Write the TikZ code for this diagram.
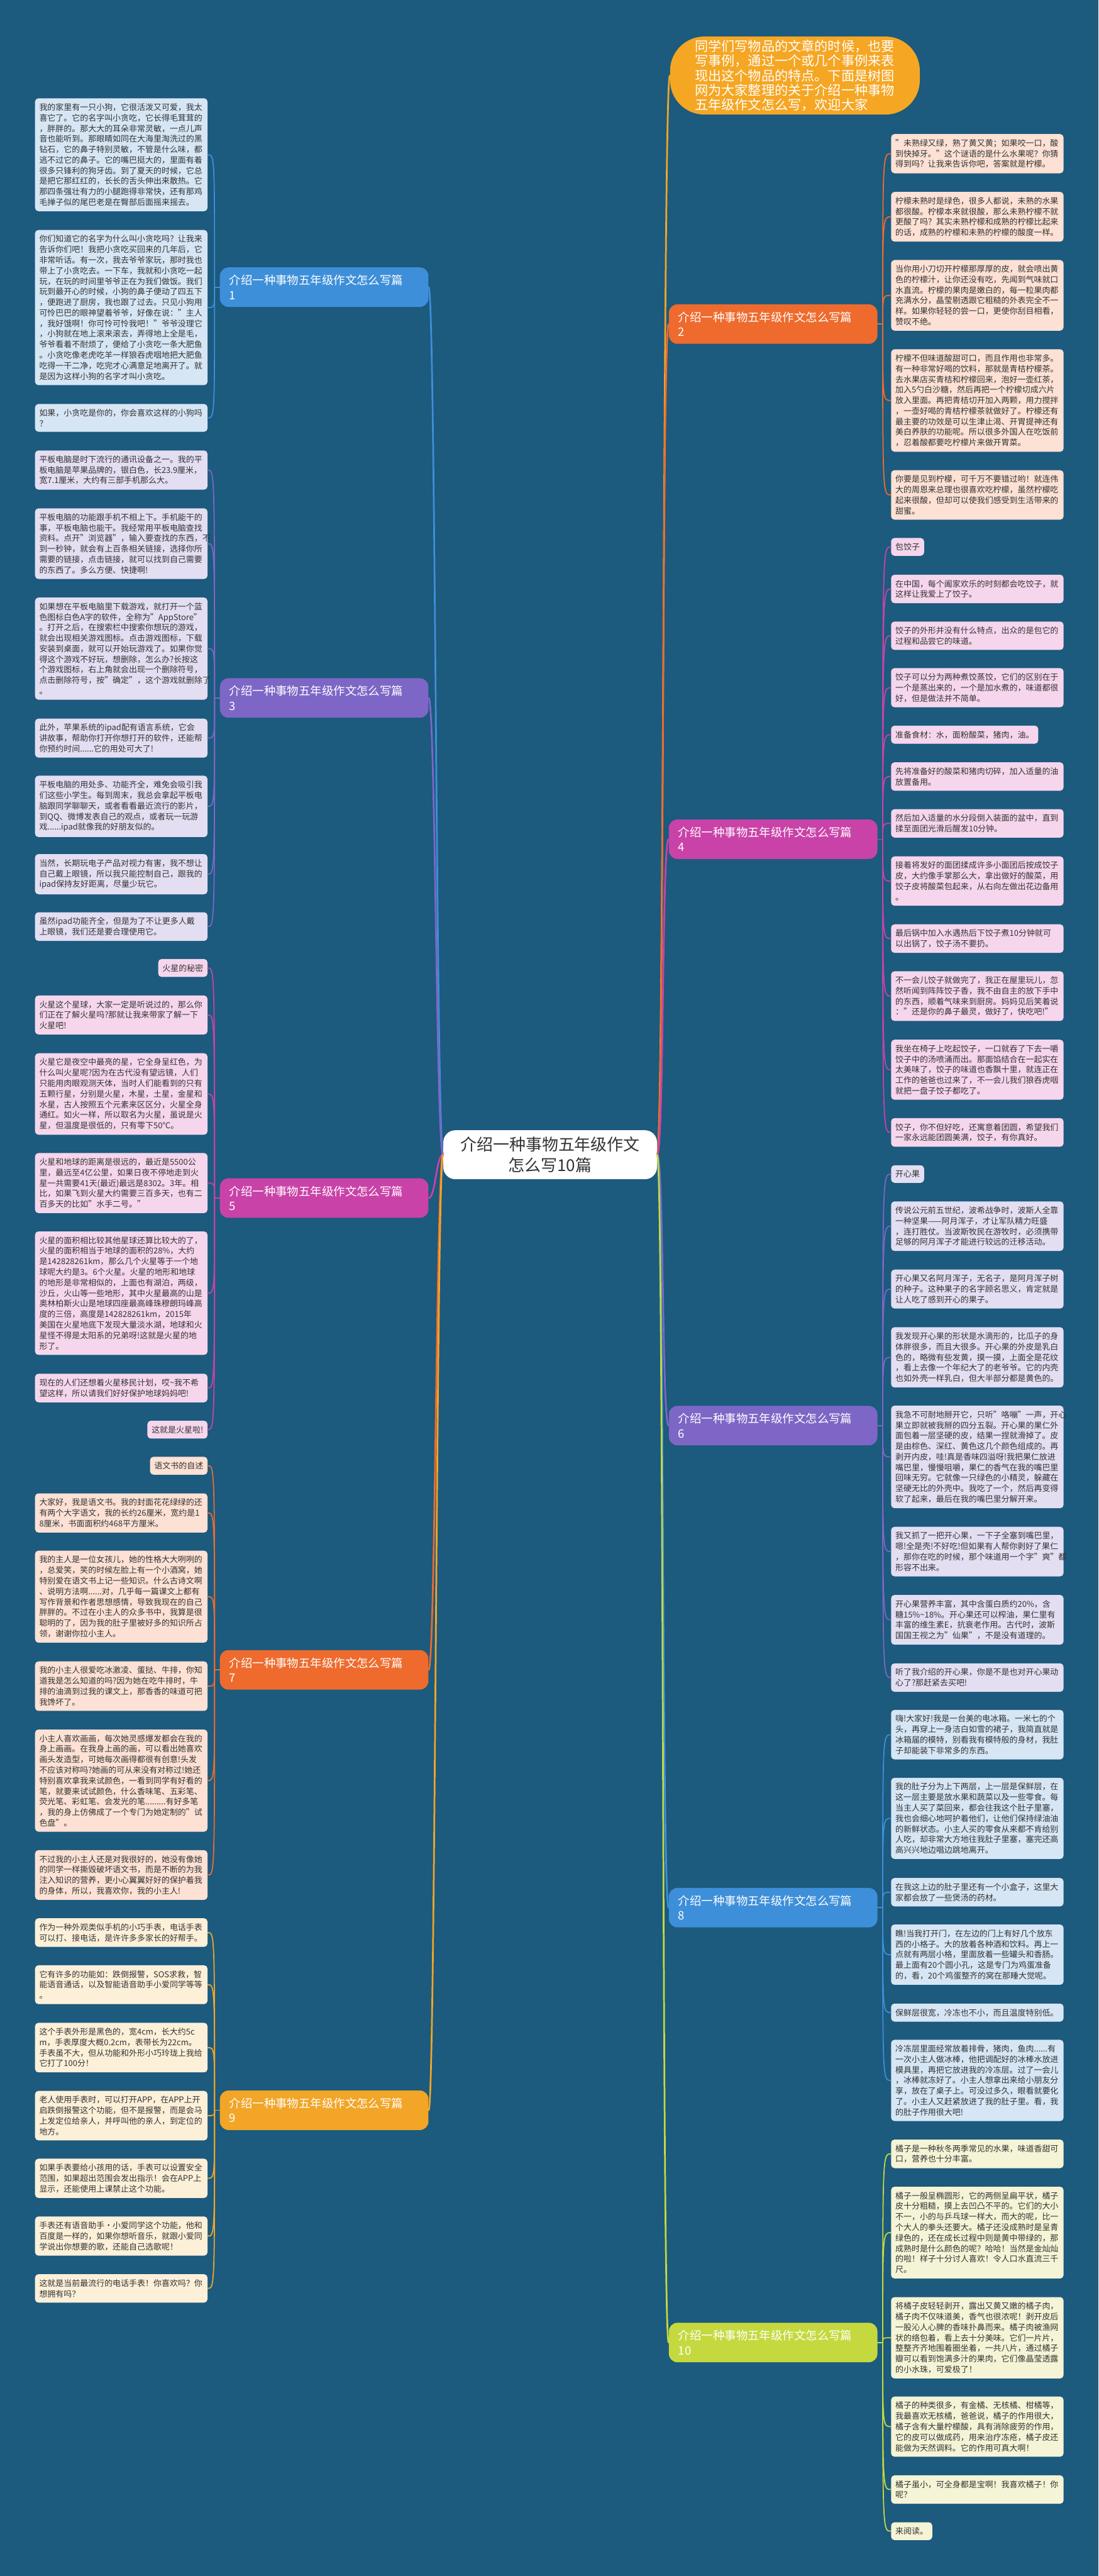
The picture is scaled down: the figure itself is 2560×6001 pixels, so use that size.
\documentclass[tikz,border=0pt]{standalone}
\usepackage{fontspec}
\setmainfont{Noto Sans CJK SC}
\definecolor{bgc}{HTML}{1C5A7E}
\definecolor{txt}{HTML}{333333}
\definecolor{cA}{HTML}{3E8FD9}\definecolor{fA}{HTML}{D6E6F5}
\definecolor{cB}{HTML}{EE6B2D}\definecolor{fB}{HTML}{FCE1D4}
\definecolor{cC}{HTML}{7E66C6}\definecolor{fC}{HTML}{E3DEF2}
\definecolor{cD}{HTML}{C942A8}\definecolor{fD}{HTML}{F6D6EC}
\definecolor{cE}{HTML}{F2A526}\definecolor{fE}{HTML}{FDF0D9}
\definecolor{cF}{HTML}{C5D93E}\definecolor{fF}{HTML}{F5F4D6}
\definecolor{introc}{HTML}{F5A623}
\begin{document}
\begin{tikzpicture}[x=0.5pt, y=-0.5pt, line cap=round,
  leaf/.style={rounded corners=4pt, text=txt, inner xsep=5pt, inner ysep=6pt,
    font=\fontsize{9.5}{12.3}\selectfont, align=left},
  leafL/.style={leaf, anchor=east, text width=191pt},
  leafR/.style={leaf, anchor=west, text width=191pt},
  tagL/.style={leaf, anchor=east},
  tagR/.style={leaf, anchor=west},
  branch/.style={rounded corners=10pt, text=white, text width=221pt, inner xsep=11pt,
    minimum height=46pt, align=left, font=\fontsize{13.5}{17}\selectfont},
  branchL/.style={branch, anchor=west},
  branchR/.style={branch, anchor=east},
  trunk/.style={line width=2pt},
  twig/.style={line width=1.3pt}]
  \fill[bgc] (0,0) rectangle (2560,6001);
  \useasboundingbox (0,0) rectangle (2560,6001);
  % 中心与引言
  \node[fill=white, rounded corners=14pt, minimum width=249pt, minimum height=57pt,
    align=center, text=txt, font=\fontsize{19}{24}\selectfont] (ctr) at (1282,2690)
    {介绍一种事物五年级作文\\怎么写10篇};
  \node[fill=introc, rounded corners=40pt, anchor=west, text=white, text width=233pt,
    inner xsep=29pt, inner ysep=4pt, align=left, font=\fontsize{15.5}{17}\selectfont] (intro) at (1561,176)
    {同学们写物品的文章的时候，也要\\写事例，通过一个或几个事例来表\\现出这个物品的特点。下面是树图\\网为大家整理的关于介绍一种事物\\五年级作文怎么写，欢迎大家};
  \draw[trunk, introc] (ctr.east) .. controls ([xshift=8pt]ctr.east) and ([xshift=-8pt]intro.west) .. (intro.west);
  % 分支
  \node[branchL, fill=cA] (b1) at (512,669) {介绍一种事物五年级作文怎么写篇\\1};
  \node[branchL, fill=cC] (b3) at (512,1626) {介绍一种事物五年级作文怎么写篇\\3};
  \node[branchL, fill=cD] (b5) at (512,2791) {介绍一种事物五年级作文怎么写篇\\5};
  \node[branchL, fill=cB] (b7) at (512,3890) {介绍一种事物五年级作文怎么写篇\\7};
  \node[branchL, fill=cE] (b9) at (512,4916) {介绍一种事物五年级作文怎么写篇\\9};
  \node[branchR, fill=cB] (b2) at (2045,755) {介绍一种事物五年级作文怎么写篇\\2};
  \node[branchR, fill=cD] (b4) at (2045,1955) {介绍一种事物五年级作文怎么写篇\\4};
  \node[branchR, fill=cC] (b6) at (2045,3321) {介绍一种事物五年级作文怎么写篇\\6};
  \node[branchR, fill=cA] (b8) at (2045,4444) {介绍一种事物五年级作文怎么写篇\\8};
  \node[branchR, fill=cF] (b10) at (2045,5457) {介绍一种事物五年级作文怎么写篇\\10};
  \foreach \b/\c in {b1/cA,b3/cC,b5/cD,b7/cB,b9/cE}
    \draw[trunk, \c] (ctr.west) .. controls ([xshift=-8pt]ctr.west) and ([xshift=8pt]\b.east) .. (\b.east);
  \foreach \b/\c in {b2/cB,b4/cD,b6/cC,b8/cA,b10/cF}
    \draw[trunk, \c] (ctr.east) .. controls ([xshift=8pt]ctr.east) and ([xshift=-8pt]\b.west) .. (\b.west);
  \foreach \b in {b1,b3,b5,b7,b9} \coordinate (h\b) at ([xshift=-6pt]\b.west);
  \foreach \b in {b2,b4,b6,b8,b10} \coordinate (h\b) at ([xshift=6pt]\b.east);
  % 篇1 小狗
  \node[leafL, fill=fA] (l1a) at (484,360.5) {我的家里有一只小狗，它很活泼又可爱，我太\\喜它了。它的名字叫小贪吃，它长得毛茸茸的\\，胖胖的。那大大的耳朵非常灵敏，一点儿声\\音也能听到。那眼睛如同在大海里淘洗过的黑\\钻石，它的鼻子特别灵敏，不管是什么味，都\\逃不过它的鼻子。它的嘴巴挺大的，里面有着\\很多只锋利的狗牙齿。到了夏天的时候，它总\\是把它那红红的，长长的舌头伸出来散热。它\\那四条强壮有力的小腿跑得非常快，还有那鸡\\毛掸子似的尾巴老是在臀部后面摇来摇去。};
  \node[leafL, fill=fA] (l1b) at (484,716.5) {你们知道它的名字为什么叫小贪吃吗？让我来\\告诉你们吧！我把小贪吃买回来的几年后，它\\非常听话。有一次，我去爷爷家玩，那时我也\\带上了小贪吃去。一下车，我就和小贪吃一起\\玩，在玩的时间里爷爷正在为我们做饭。我们\\玩到最开心的时候，小狗的鼻子便动了四五下\\，便跑进了厨房，我也跟了过去。只见小狗用\\可怜巴巴的眼神望着爷爷，好像在说："主人\\，我好饿啊！你可怜可怜我吧！"爷爷没理它\\，小狗就在地上滚来滚去，弄得地上全是毛，\\爷爷看着不耐烦了，便给了小贪吃一条大肥鱼\\。小贪吃像老虎吃羊一样狼吞虎咽地把大肥鱼\\吃得一干二净，吃完才心满意足地离开了。就\\是因为这样小狗的名字才叫小贪吃。};
  \node[leafL, fill=fA] (l1c) at (484,973.5) {如果，小贪吃是你的，你会喜欢这样的小狗吗\\？};
  % 篇3 平板电脑
  \node[leafL, fill=fC] (l3a) at (484,1095) {平板电脑是时下流行的通讯设备之一。我的平\\板电脑是苹果品牌的，银白色，长23.9厘米，\\宽7.1厘米，大约有三部手机那么大。};
  \node[leafL, fill=fC] (l3b) at (484,1266.5) {平板电脑的功能跟手机不相上下。手机能干的\\事，平板电脑也能干。我经常用平板电脑查找\\资料。点开"浏览器"，输入要查找的东西，不\\到一秒钟，就会有上百条相关链接，选择你所\\需要的链接，点击链接，就可以找到自己需要\\的东西了。多么方便、快捷啊!};
  \node[leafL, fill=fC] (l3c) at (484,1511) {如果想在平板电脑里下载游戏，就打开一个蓝\\色图标白色A字的软件，全称为"AppStore"\\。打开之后，在搜索栏中搜索你想玩的游戏，\\就会出现相关游戏图标。点击游戏图标，下载\\安装到桌面，就可以开始玩游戏了。如果你觉\\得这个游戏不好玩，想删除，怎么办?长按这\\个游戏图标，右上角就会出现一个删除符号，\\点击删除符号，按"确定"，这个游戏就删除了\\。};
  \node[leafL, fill=fC] (l3d) at (484,1719.5) {此外，苹果系统的ipad配有语言系统，它会\\讲故事，帮助你打开你想打开的软件，还能帮\\你预约时间......它的用处可大了!};
  \node[leafL, fill=fC] (l3e) at (484,1878.5) {平板电脑的用处多、功能齐全，难免会吸引我\\们这些小学生。每到周末，我总会拿起平板电\\脑跟同学聊聊天，或者看看最近流行的影片，\\到QQ、微博发表自己的观点，或者玩一玩游\\戏......ipad就像我的好朋友似的。};
  \node[leafL, fill=fC] (l3f) at (484,2036.5) {当然，长期玩电子产品对视力有害，我不想让\\自己戴上眼镜，所以我只能控制自己，跟我的\\ipad保持友好距离，尽量少玩它。};
  \node[leafL, fill=fC] (l3g) at (484,2158.5) {虽然ipad功能齐全，但是为了不让更多人戴\\上眼镜，我们还是要合理使用它。};
  % 篇5 火星
  \node[tagL, fill=fD] (l5t) at (484,2255) {火星的秘密};
  \node[leafL, fill=fD] (l5a) at (484,2364.5) {火星这个星球，大家一定是听说过的，那么你\\们正在了解火星吗?那就让我来带家了解一下\\火星吧!};
  \node[leafL, fill=fD] (l5b) at (484,2548.5) {火星它是夜空中最亮的星，它全身呈红色，为\\什么叫火星呢?因为在古代没有望远镜，人们\\只能用肉眼观测天体，当时人们能看到的只有\\五颗行星，分别是火星，木星，土星，金星和\\水星，古人按照五个元素来区区分，火星全身\\通红。如火一样，所以取名为火星，虽说是火\\星，但温度是很低的，只有零下50℃。};
  \node[leafL, fill=fD] (l5c) at (484,2756) {火星和地球的距离是很远的，最近是5500公\\里，最远至4亿公里，如果日夜不停地走到火\\星一共需要41天(最近)最远是8302。3年。相\\比，如果飞到火星大约需要三百多天，也有二\\百多天的比如"水手二号。"};
  \node[leafL, fill=fD] (l5d) at (484,3012.5) {火星的面积相比较其他星球还算比较大的了，\\火星的面积相当于地球的面积的28\%，大约\\是142828261km，那么几个火星等于一个地\\球呢大约是3。6个火星。火星的地形和地球\\的地形是非常相似的，上面也有湖泊，两级，\\沙丘，火山等一些地形，其中火星最高的山是\\奥林柏斯火山是地球四座最高峰珠穆朗玛峰高\\度的三倍，高度是142828261km，2015年\\美国在火星地底下发现大量淡水湖，地球和火\\星怪不得是太阳系的兄弟呀!这就是火星的地\\形了。};
  \node[leafL, fill=fD] (l5e) at (484,3233.5) {现在的人们还想着火星移民计划，哎\textasciitilde{}我不希\\望这样，所以请我们好好保护地球妈妈吧!};
  \node[tagL, fill=fD] (l5f) at (484,3330.5) {这就是火星啦!};
  % 篇7 语文书
  \node[tagL, fill=fB] (l7t) at (484,3414.5) {语文书的自述};
  \node[leafL, fill=fB] (l7a) at (484,3524.5) {大家好，我是语文书。我的封面花花绿绿的还\\有两个大字语文，我的长约26厘米，宽约是1\\8厘米，书面面积约468平方厘米。};
  \node[leafL, fill=fB] (l7b) at (484,3719.5) {我的主人是一位女孩儿，她的性格大大咧咧的\\，总爱笑，笑的时候左脸上有一个小酒窝，她\\特别爱在语文书上记一些知识。什么古诗文啊\\、说明方法啊......对，几乎每一篇课文上都有\\写作背景和作者思想感情，导致我现在的自己\\胖胖的。不过在小主人的众多书中，我算是很\\聪明的了，因为我的肚子里被好多的知识所占\\领，谢谢你拉小主人。};
  \node[leafL, fill=fB] (l7c) at (484,3928) {我的小主人很爱吃冰激凌、蛋挞、牛排，你知\\道我是怎么知道的吗?因为她在吃牛排时，牛\\排的油滴到过我的课文上，那香香的味道可把\\我馋坏了。};
  \node[leafL, fill=fB] (l7d) at (484,4148) {小主人喜欢画画，每次她灵感爆发都会在我的\\身上画画。在我身上画的画，可以看出她喜欢\\画头发造型，可她每次画得都很有创意!头发\\不应该对称吗?她画的可从来没有对称过!她还\\特别喜欢拿我来试颜色，一看到同学有好看的\\笔，就要来试试颜色，什么香味笔、五彩笔、\\荧光笔、彩虹笔、会发光的笔.........有好多笔\\，我的身上仿佛成了一个专门为她定制的"试\\色盘"。};
  \node[leafL, fill=fB] (l7e) at (484,4368) {不过我的小主人还是对我很好的，她没有像她\\的同学一样撕毁破坏语文书，而是不断的为我\\注入知识的营养，更小心翼翼好好的保护着我\\的身体，所以，我喜欢你，我的小主人!};
  % 篇9 电话手表
  \node[leafL, fill=fE] (l9a) at (484,4502) {作为一种外观类似手机的小巧手表，电话手表\\可以打、接电话，是许许多多家长的好帮手。};
  \node[leafL, fill=fE] (l9b) at (484,4623.5) {它有许多的功能如：跌倒报警，SOS求救，智\\能语音通话，以及智能语音助手小爱同学等等\\。};
  \node[leafL, fill=fE] (l9c) at (484,4770) {这个手表外形是黑色的，宽4cm，长大约5c\\m，手表厚度大概0.2cm，表带长为22cm。\\手表虽不大，但从功能和外形小巧玲珑上我给\\它打了100分！};
  \node[leafL, fill=fE] (l9d) at (484,4928.5) {老人使用手表时，可以打开APP，在APP上开\\启跌倒报警这个功能，但不是报警，而是会马\\上发定位给亲人，并呼叫他的亲人，到定位的\\地方。};
  \node[leafL, fill=fE] (l9e) at (484,5074.5) {如果手表要给小孩用的话，手表可以设置安全\\范围，如果超出范围会发出指示！会在APP上\\显示，还能使用上课禁止这个功能。};
  \node[leafL, fill=fE] (l9f) at (484,5209) {手表还有语音助手·小爱同学这个功能，他和\\百度是一样的，如果你想听音乐，就跟小爱同\\学说出你想要的歌，还能自己选歌呢！};
  \node[leafL, fill=fE] (l9g) at (484,5331) {这就是当前最流行的电话手表！你喜欢吗？你\\想拥有吗？};
  % 篇2 柠檬
  \node[leafR, fill=fB] (r2a) at (2076,358) {"未熟绿又绿，熟了黄又黄；如果咬一口，酸\\到快掉牙。"这个谜语的是什么水果呢？你猜\\得到吗？让我来告诉你吧，答案就是柠檬。};
  \node[leafR, fill=fB] (r2b) at (2076,505) {柠檬未熟时是绿色，很多人都说，未熟的水果\\都很酸。柠檬本来就很酸，那么未熟柠檬不就\\更酸了吗？其实未熟柠檬和成熟的柠檬比起来\\的话，成熟的柠檬和未熟的柠檬的酸度一样。};
  \node[leafR, fill=fB] (r2c) at (2076,688) {当你用小刀切开柠檬那厚厚的皮，就会喷出黄\\色的柠檬汁，让你还没有吃，先闻到气味就口\\水直流。柠檬的果肉是嫩白的，每一粒果肉都\\充满水分，晶莹剔透跟它粗糙的外表完全不一\\样。如果你轻轻的尝一口，更使你刮目相看，\\赞叹不绝。};
  \node[leafR, fill=fB] (r2d) at (2076,933) {柠檬不但味道酸甜可口，而且作用也非常多。\\有一种非常好喝的饮料，那就是青桔柠檬茶。\\去水果店买青桔和柠檬回来，泡好一壶红茶，\\加入5勺白沙糖，然后再把一个柠檬切成六片\\放入里面。再把青桔切开加入两颗，用力搅拌\\，一壶好喝的青桔柠檬茶就做好了。柠檬还有\\最主要的功效是可以生津止渴、开胃提神还有\\美白养肤的功能呢。所以很多外国人在吃饭前\\，忍着酸都要吃柠檬片来做开胃菜。};
  \node[leafR, fill=fB] (r2e) at (2076,1153) {你要是见到柠檬，可千万不要错过哟！就连伟\\大的周恩来总理也很喜欢吃柠檬，虽然柠檬吃\\起来很酸，但却可以使我们感受到生活带来的\\甜蜜。};
  % 篇4 饺子
  \node[tagR, fill=fD] (r4t) at (2076,1274) {包饺子};
  \node[leafR, fill=fD] (r4a) at (2076,1372) {在中国，每个阖家欢乐的时刻都会吃饺子，就\\这样让我爱上了饺子。};
  \node[leafR, fill=fD] (r4b) at (2076,1481) {饺子的外形并没有什么特点，出众的是包它的\\过程和品尝它的味道。};
  \node[leafR, fill=fD] (r4c) at (2076,1602) {饺子可以分为两种煮饺蒸饺，它们的区别在于\\一个是蒸出来的，一个是加水煮的，味道都很\\好，但是做法并不简单。};
  \node[tagR, fill=fD] (r4d) at (2076,1711.5) {准备食材：水，面粉酸菜，猪肉，油。};
  \node[leafR, fill=fD] (r4e) at (2076,1809) {先将准备好的酸菜和猪肉切碎，加入适量的油\\放置备用。};
  \node[leafR, fill=fD] (r4f) at (2076,1918) {然后加入适量的水分段倒入装面的盆中，直到\\揉至面团光滑后醒发10分钟。};
  \node[leafR, fill=fD] (r4g) at (2076,2052.5) {接着将发好的面团揉成许多小面团后按成饺子\\皮，大约像手掌那么大，拿出做好的酸菜，用\\饺子皮将酸菜包起来，从右向左做出花边备用\\。};
  \node[leafR, fill=fD] (r4h) at (2076,2186.5) {最后锅中加入水遇热后下饺子煮10分钟就可\\以出锅了，饺子汤不要扔。};
  \node[leafR, fill=fD] (r4i) at (2076,2320.5) {不一会儿饺子就做完了，我正在屋里玩儿，忽\\然听闻到阵阵饺子香，我不由自主的放下手中\\的东西，顺着气味来到厨房。妈妈见后笑着说\\："还是你的鼻子最灵，做好了，快吃吧!"};
  \node[leafR, fill=fD] (r4j) at (2076,2492) {我坐在椅子上吃起饺子，一口就吞了下去一嚼\\饺子中的汤喷涌而出。那面馅结合在一起实在\\太美味了，饺子的味道也香飘十里，就连正在\\工作的爸爸也过来了，不一会儿我们狼吞虎咽\\就把一盘子饺子都吃了。};
  \node[leafR, fill=fD] (r4k) at (2076,2638) {饺子，你不但好吃，还寓意着团圆，希望我们\\一家永远能团圆美满，饺子，有你真好。};
  % 篇6 开心果
  \node[tagR, fill=fC] (r6t) at (2076,2735) {开心果};
  \node[leafR, fill=fC] (r6a) at (2076,2856.5) {传说公元前五世纪，波希战争时，波斯人全靠\\一种坚果——阿月浑子，才让军队精力旺盛\\，连打胜仗。当波斯牧民在游牧时，必须携带\\足够的阿月浑子才能进行较远的迁移活动。};
  \node[leafR, fill=fC] (r6b) at (2076,3003) {开心果又名阿月浑子，无名子，是阿月浑子树\\的种子。这种果子的名字顾名思义，肯定就是\\让人吃了感到开心的果子。};
  \node[leafR, fill=fC] (r6c) at (2076,3162) {我发现开心果的形状是水滴形的，比瓜子的身\\体胖很多，而且大很多。开心果的外皮是乳白\\色的，略微有些发黄，摸一摸，上面全是花纹\\，看上去像一个年纪大了的老爷爷。它的内壳\\也如外壳一样乳白，但大半部分都是黄色的。};
  \node[leafR, fill=fC] (r6d) at (2076,3394) {我急不可耐地掰开它，只听"咯嘣"一声，开心\\果立即就被我掰的四分五裂。开心果的果仁外\\面包着一层坚硬的皮，结果一捏就滑掉了。皮\\是由棕色、深红、黄色这几个颜色组成的。再\\剥开内皮，哇!真是香味四溢呀!我把果仁放进\\嘴巴里，慢慢咀嚼，果仁的香气在我的嘴巴里\\回味无穷。它就像一只绿色的小精灵，躲藏在\\坚硬无比的外壳中。我吃了一个，然后再变得\\软了起来，最后在我的嘴巴里分解开来。};
  \node[leafR, fill=fC] (r6e) at (2076,3614.5) {我又抓了一把开心果，一下子全塞到嘴巴里，\\嗯!全是壳!不好吃!但如果有人帮你剥好了果仁\\，那你在吃的时候，那个味道用一个字"爽"都\\形容不出来。};
  \node[leafR, fill=fC] (r6f) at (2076,3773.5) {开心果营养丰富，其中含蛋白质约20\%，含\\糖15\%\textasciitilde{}18\%。开心果还可以榨油，果仁里有\\丰富的维生素E，抗衰老作用。古代时，波斯\\国国王视之为"仙果"，不是没有道理的。};
  \node[leafR, fill=fC] (r6g) at (2076,3908) {听了我介绍的开心果，你是不是也对开心果动\\心了?那赶紧去买吧!};
  % 篇8 电冰箱
  \node[leafR, fill=fA] (r8a) at (2076,4041) {嗨!大家好!我是一台美的电冰箱。一米七的个\\头，再穿上一身洁白如雪的裙子，我简直就是\\冰箱届的模特，别看我有模特般的身材，我肚\\子却能装下非常多的东西。};
  \node[leafR, fill=fA] (r8b) at (2076,4236) {我的肚子分为上下两层，上一层是保鲜层，在\\这一层主要是放水果和蔬菜以及一些零食。每\\当主人买了菜回来，都会往我这个肚子里塞，\\我也会细心地呵护着他们，让他们保持绿油油\\的新鲜状态。小主人买的零食从来都不肯给别\\人吃，却非常大方地往我肚子里塞，塞完还高\\高兴兴地边唱边跳地离开。};
  \node[leafR, fill=fA] (r8c) at (2076,4408) {在我这上边的肚子里还有一个小盒子，这里大\\家都会放了一些煲汤的药材。};
  \node[leafR, fill=fA] (r8d) at (2076,4553.5) {瞧!当我打开门，在左边的门上有好几个放东\\西的小格子。大的放着各种酒和饮料。再上一\\点就有两层小格，里面放着一些罐头和香肠。\\最上面有20个圆小孔，这是专门为鸡蛋准备\\的，看，20个鸡蛋整齐的窝在那睡大觉呢。};
  \node[leafR, fill=fA] (r8e) at (2076,4688.5) {保鲜层很宽，冷冻也不小，而且温度特别低。};
  \node[leafR, fill=fA] (r8f) at (2076,4846.5) {冷冻层里面经常放着排骨，猪肉，鱼肉......有\\一次小主人做冰棒，他把调配好的冰棒水放进\\模具里，再把它放进我的冷冻层。过了一会儿\\，冰棒就冻好了。小主人想拿出来给小朋友分\\享，放在了桌子上。可没过多久，眼看就要化\\了。小主人又赶紧放进了我的肚子里。看，我\\的肚子作用很大吧!};
  % 篇10 橘子
  \node[leafR, fill=fF] (r10a) at (2076,5017.5) {橘子是一种秋冬两季常见的水果，味道香甜可\\口，营养也十分丰富。};
  \node[leafR, fill=fF] (r10b) at (2076,5201) {橘子一般呈椭圆形，它的两侧呈扁平状，橘子\\皮十分粗糙，摸上去凹凸不平的。它们的大小\\不一，小的与乒乓球一样大，而大的呢，比一\\个大人的拳头还要大。橘子还没成熟时是呈青\\绿色的，还在成长过程中则是黄中带绿的，那\\成熟时是什么颜色的呢？哈哈！当然是金灿灿\\的啦！样子十分讨人喜欢！令人口水直流三千\\尺。};
  \node[leafR, fill=fF] (r10c) at (2076,5446) {将橘子皮轻轻剥开，露出又黄又嫩的橘子肉，\\橘子肉不仅味道美，香气也很浓呢！剥开皮后\\一股沁人心脾的香味扑鼻而来。橘子肉被渔网\\状的络包着，看上去十分美味。它们一片片，\\整整齐齐地围着圈坐着，一共八片，通过橘子\\瓣可以看到饱满多汁的果肉，它们像晶莹透露\\的小水珠，可爱极了！};
  \node[leafR, fill=fF] (r10d) at (2076,5653) {橘子的种类很多，有金橘、无核橘、柑橘等，\\我最喜欢无核橘，爸爸说，橘子的作用很大，\\橘子含有大量柠檬酸，具有消除疲劳的作用，\\它的皮可以做成药，用来治疗冻疮，橘子皮还\\能做为天然调料。它的作用可真大啊！};
  \node[leafR, fill=fF] (r10e) at (2076,5799.5) {橘子虽小，可全身都是宝啊！我喜欢橘子！你\\呢？};
  \node[tagR, fill=fF] (r10f) at (2076,5896.5) {来阅读。};
  % 叶子连线
  \foreach \b/\c/\ls in {b1/cA/{l1a,l1b,l1c}, b3/cC/{l3a,l3b,l3c,l3d,l3e,l3f,l3g},
      b5/cD/{l5t,l5a,l5b,l5c,l5d,l5e,l5f}, b7/cB/{l7t,l7a,l7b,l7c,l7d,l7e},
      b9/cE/{l9a,l9b,l9c,l9d,l9e,l9f,l9g}} {
    \draw[twig, \c] (\b.west) -- (h\b);
    \foreach \n in \ls
      \draw[twig, \c] (h\b) .. controls (h\b |- \n.east) .. (\n.east);
  }
  \foreach \b/\c/\ls in {b2/cB/{r2a,r2b,r2c,r2d,r2e}, b4/cD/{r4t,r4a,r4b,r4c,r4d,r4e,r4f,r4g,r4h,r4i,r4j,r4k},
      b6/cC/{r6t,r6a,r6b,r6c,r6d,r6e,r6f,r6g}, b8/cA/{r8a,r8b,r8c,r8d,r8e,r8f},
      b10/cF/{r10a,r10b,r10c,r10d,r10e,r10f}} {
    \draw[twig, \c] (\b.east) -- (h\b);
    \foreach \n in \ls
      \draw[twig, \c] (h\b) .. controls (h\b |- \n.west) .. (\n.west);
  }
\end{tikzpicture}
\end{document}
